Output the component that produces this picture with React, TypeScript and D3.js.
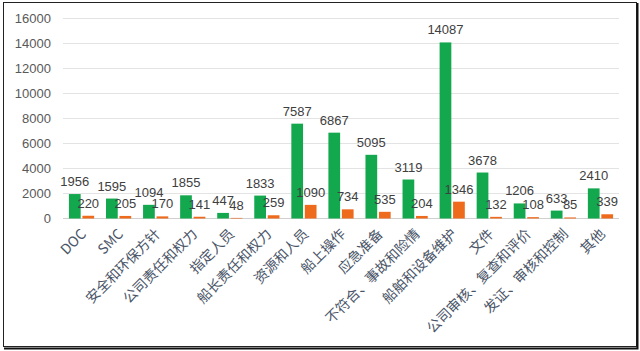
import { useEffect, useRef } from 'react';
import * as d3 from 'd3';

const categories = ['DOC', 'SMC', '安全和环保方针', '公司责任和权力', '指定人员', '船长责任和权力', '资源和人员', '船上操作', '应急准备', '不符合、事故和险情', '船舶和设备维护', '文件', '公司审核、复查和评价', '发证、审核和控制', '其他'];
const greenValues = [1956, 1595, 1094, 1855, 447, 1833, 7587, 6867, 5095, 3119, 14087, 3678, 1206, 633, 2410];
const orangeValues = [220, 205, 170, 141, 48, 259, 1090, 734, 535, 204, 1346, 132, 108, 85, 339];
const yTicks = [0, 2000, 4000, 6000, 8000, 10000, 12000, 14000, 16000];

const App = () => {
  const svgRef = useRef<SVGSVGElement>(null);

  useEffect(() => {
    const svg = d3.select(svgRef.current);
    svg.selectAll('*').remove();

    const width = 640;
    const height = 351;
    const margin = { top: 18.5, right: 21, bottom: 132.5, left: 63 };
    const innerW = width - margin.left - margin.right;
    const innerH = height - margin.top - margin.bottom;

    svg.attr('width', width).attr('height', height);

    // frame
    svg.append('rect').attr('x', 0).attr('y', 0).attr('width', width).attr('height', height).attr('fill', '#fff');
    svg.append('rect')
      .attr('x', 3.5).attr('y', 2.5).attr('width', 633).attr('height', 344)
      .attr('fill', 'none').attr('stroke', '#222').attr('stroke-width', 1);
    svg.append('path')
      .attr('d', 'M637.5,3V348.5H4')
      .attr('fill', 'none').attr('stroke', '#111').attr('stroke-width', 2);

    const g = svg.append('g').attr('transform', `translate(${margin.left},${margin.top})`);

    const x = d3.scaleBand().domain(categories).range([0, innerW]).paddingInner(0.32).paddingOuter(0.16);
    const sub = d3.scaleBand().domain(['green', 'orange']).range([0, x.bandwidth()]).paddingInner(0.13);
    const y = d3.scaleLinear().domain([0, 16000]).range([innerH, 0]);

    // gridlines
    g.selectAll('.grid')
      .data(yTicks)
      .enter().append('line')
      .attr('x1', 0).attr('x2', innerW)
      .attr('y1', d => y(d)).attr('y2', d => y(d))
      .attr('stroke', d => d === 0 ? '#d0d0d0' : '#e3e3e3')
      .attr('stroke-width', 1);

    // y labels
    g.selectAll('.ylab')
      .data(yTicks)
      .enter().append('text')
      .attr('x', -12)
      .attr('y', d => y(d))
      .attr('dy', '0.35em')
      .attr('text-anchor', 'end')
      .style('font-family', 'Liberation Sans, Arial, sans-serif')
      .style('font-size', '13px')
      .style('fill', '#595959')
      .text(d => d);

    const series = [
      { key: 'green', values: greenValues, color: '#14A84E' },
      { key: 'orange', values: orangeValues, color: '#EE6B1E' }
    ];

    series.forEach(s => {
      g.selectAll(`.bar-${s.key}`)
        .data(categories)
        .enter().append('rect')
        .attr('x', d => (x(d) ?? 0) + (sub(s.key) ?? 0))
        .attr('y', (d, i) => y(s.values[i]))
        .attr('width', sub.bandwidth())
        .attr('height', (d, i) => innerH - y(s.values[i]))
        .attr('fill', s.color);

      g.selectAll(`.val-${s.key}`)
        .data(categories)
        .enter().append('text')
        .attr('x', d => (x(d) ?? 0) + (sub(s.key) ?? 0) + sub.bandwidth() / 2)
        .attr('y', (d, i) => y(s.values[i]) - 8)
        .attr('text-anchor', 'middle')
        .style('font-family', 'Liberation Sans, Arial, sans-serif')
        .style('font-size', '13px')
        .style('fill', '#404040')
        .text((d, i) => s.values[i]);
    });

    // x labels
    g.selectAll('.xlab')
      .data(categories)
      .enter().append('text')
      .attr('transform', d => `translate(${(x(d) ?? 0) + x.bandwidth() / 2 + 2},${innerH + 13}) rotate(-45)`)
      .attr('text-anchor', 'end')
      .attr('dy', '0.35em')
      .style('font-family', '"Noto Sans CJK SC", sans-serif')
      .style('font-size', '14px')
      .style('fill', '#4A5568')
      .text(d => d);
  }, []);

  return (
    <div style={{ position: 'absolute', left: 0, top: 0 }}>
      <svg ref={svgRef}></svg>
    </div>
  );
};

export default App;
